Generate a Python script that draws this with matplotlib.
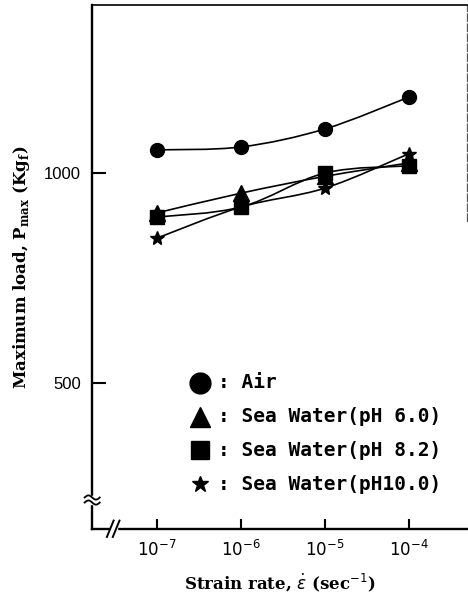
import numpy as np
import matplotlib
matplotlib.use("Agg")
import matplotlib.pyplot as plt
from matplotlib.path import Path
from matplotlib.patches import PathPatch, Rectangle

# strain rate (1/sec) and maximum load (Kgf)
strain_rate = [1e-7, 1e-6, 1e-5, 1e-4]
load_air = [1055, 1062, 1105, 1181]
load_ph60 = [905, 952, 992, 1024]
load_ph82 = [895, 919, 1000, 1017]
load_ph100 = [845, 919, 964, 1046]

labels = [": Air", ": Sea Water(pH 6.0)", ": Sea Water(pH 8.2)", ": Sea Water(pH10.0)"]
markers = ["o", "^", "s", "*"]
marker_sizes = [10, 11, 10, 10]
legend_marker_sizes = [15, 15, 13, 12]
y_ticks = [500, 1000]
x_ticks = [1e-7, 1e-6, 1e-5, 1e-4]
x_tick_labels = [r"$10^{-7}$", r"$10^{-6}$", r"$10^{-5}$", r"$10^{-4}$"]


def smooth_path(xs, ys):
    """Catmull-Rom curve through the points, built as cubic Bezier segments
    in log10(x) space so it bends nicely on the log axis."""
    lx = np.log10(xs)
    y = np.asarray(ys, dtype=float)
    pts = np.column_stack([lx, y])
    n = len(pts)
    verts = [pts[0]]
    codes = [Path.MOVETO]
    for i in range(n - 1):
        p0 = pts[max(i - 1, 0)]
        p1 = pts[i]
        p2 = pts[i + 1]
        p3 = pts[min(i + 2, n - 1)]
        c1 = p1 + (p2 - p0) / 6.0
        c2 = p2 - (p3 - p1) / 6.0
        verts += [c1, c2, p2]
        codes += [Path.CURVE4] * 3
    verts = np.array(verts)
    verts[:, 0] = 10 ** verts[:, 0]
    return Path(verts, codes)


fig = plt.figure(figsize=(4.68, 5.98), dpi=100)
ax = fig.add_axes([0.197, 0.1154, 0.801, 0.8762])

ax.set_xscale("log")
ax.set_xlim(10 ** -7.774, 10 ** -3.31)
ax.set_ylim(152, 1400)

series = [load_air, load_ph60, load_ph82, load_ph100]
for vals, m, ms in zip(series, markers, marker_sizes):
    ax.add_patch(PathPatch(smooth_path(strain_rate, vals), fill=False,
                           lw=1.2, color="black", zorder=2))
    ax.plot(strain_rate, vals, linestyle="none", marker=m, ms=ms,
            color="black", zorder=3)

# axes frame
for side in ["left", "bottom"]:
    ax.spines[side].set_linewidth(1.7)
ax.spines["top"].set_linewidth(1.2)
ax.spines["right"].set_linewidth(0.9)
ax.spines["right"].set_color("#555555")
ax.spines["right"].set_linestyle((0, (6, 2)))
ax.spines["right"].set_bounds(885, 1400)

ax.set_yticks(y_ticks)
ax.set_yticklabels([str(v) for v in y_ticks], fontfamily="Liberation Sans",
                   fontsize=12)
ax.set_xticks(x_ticks)
ax.set_xticklabels(x_tick_labels, fontsize=12)
ax.xaxis.set_minor_locator(matplotlib.ticker.NullLocator())
ax.tick_params(axis="y", direction="in", length=10, width=1.5, pad=8)
ax.tick_params(axis="x", direction="in", length=7, width=1.5, pad=8)

ax.set_ylabel(r"Maximum load, P$_{\mathregular{max}}$ (Kg$_{\mathregular{f}}$)",
              fontfamily="DejaVu Serif", fontweight="bold", fontsize=12,
              labelpad=9)
ax.set_xlabel(r"Strain rate, $\dot{\varepsilon}$ (sec$^{-1}$)",
              fontfamily="DejaVu Serif", fontweight="bold", fontsize=12,
              labelpad=8)

# break on the y axis
yb = 221
gap = Rectangle((10 ** -7.85, yb - 10), 10 ** -7.70 - 10 ** -7.85, 20,
                color="white", zorder=4, clip_on=False)
ax.add_patch(gap)
t = np.linspace(0, 1, 30)
bx = ax.get_xlim()[0]
for off in (-6, 6):
    xs = 10 ** (np.log10(bx) - 0.09 + 0.18 * t)
    ys = yb + off + 5 * np.sin(2 * np.pi * t)
    ax.plot(xs, ys, color="black", lw=1.3, clip_on=False, zorder=5)

# break on the x axis
xb = -7.524
ax.add_patch(Rectangle((10 ** (xb - 0.04), 140), 10 ** (xb + 0.04) - 10 ** (xb - 0.04), 24,
                       color="white", zorder=4, clip_on=False))
for off in (-0.035, 0.035):
    xs = 10 ** (xb + off + np.array([-0.04, 0.04]))
    ys = np.array([133, 172])
    ax.plot(xs, ys, color="black", lw=1.4, clip_on=False, zorder=5)

# key, drawn by hand in axes coordinates
key_y = 0.279
for i, (lab, m, ms) in enumerate(zip(labels, markers, legend_marker_sizes)):
    yy = key_y - i * 0.0645
    ax.plot([0.288], [yy], marker=m, ms=ms, color="black",
            transform=ax.transAxes, clip_on=False)
    ax.text(0.336, yy, lab, transform=ax.transAxes, va="center", ha="left",
            fontfamily="DejaVu Sans Mono", fontweight="bold", fontsize=14)

fig.savefig("out.png", dpi=100)
